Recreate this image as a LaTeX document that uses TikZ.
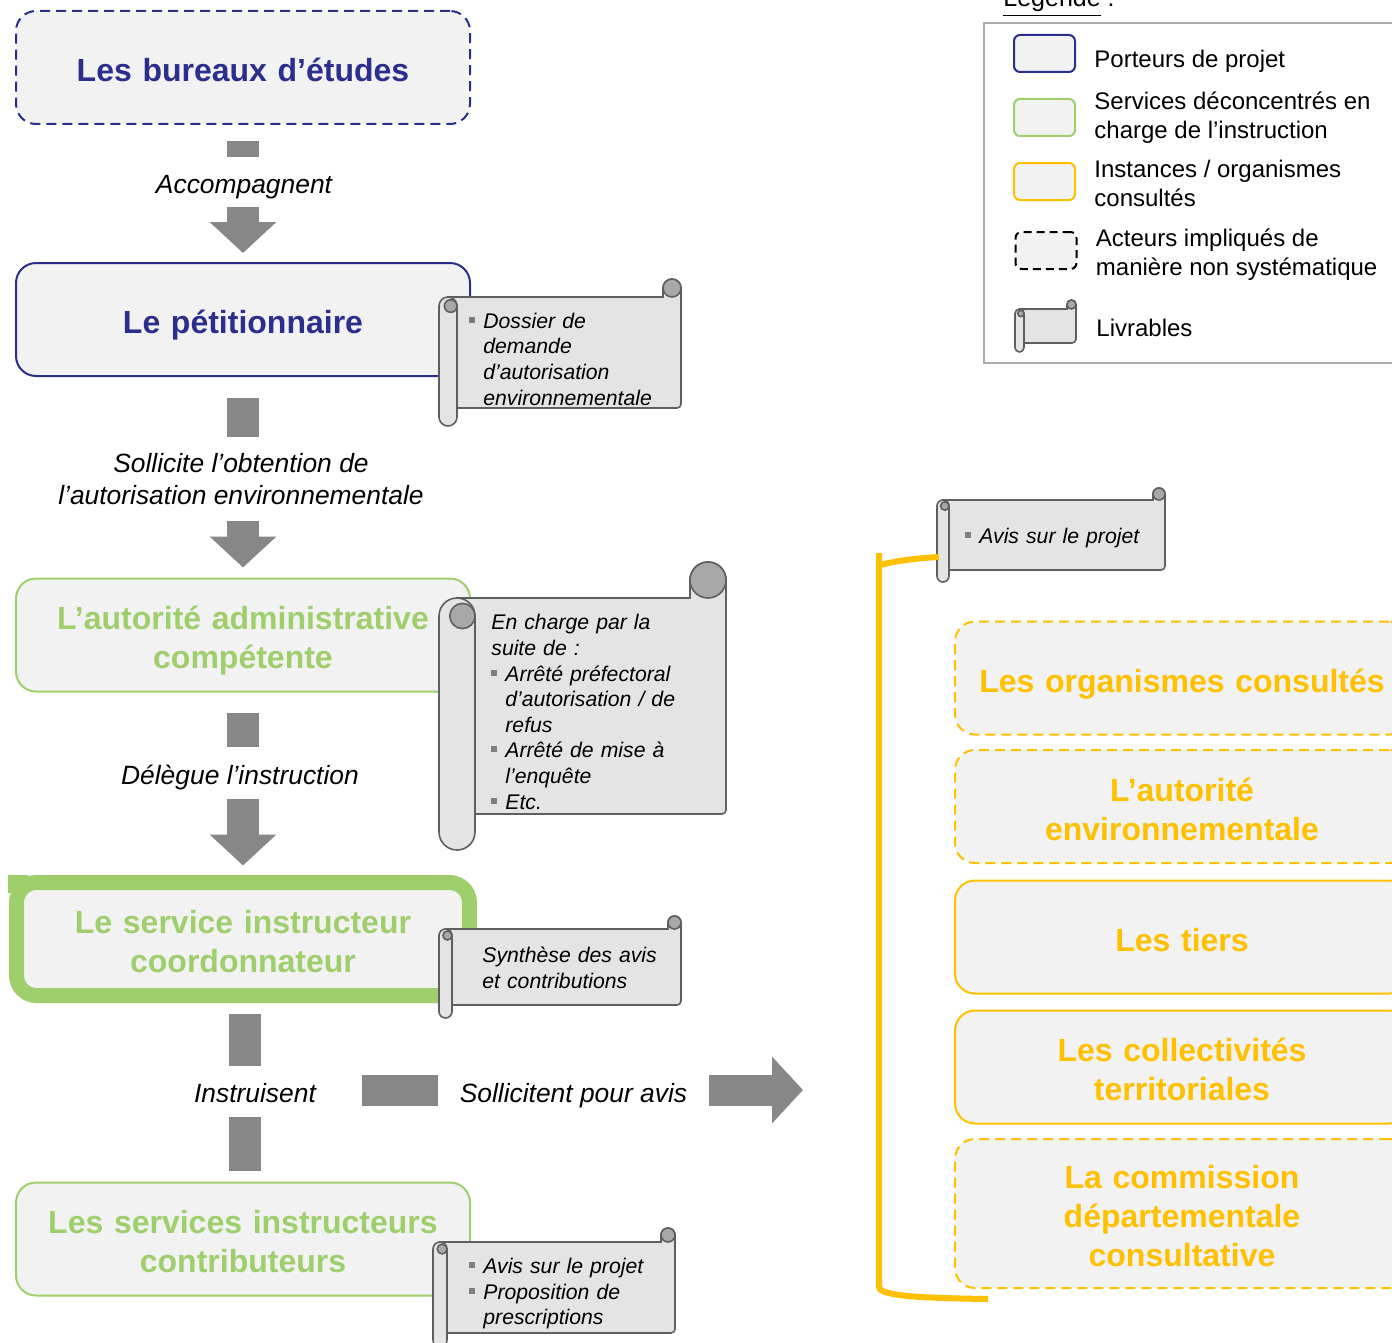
\documentclass[tikz,border=0pt]{standalone}
\usepackage{fontspec}
\setmainfont{Liberation Sans}
\usepackage{xcolor}
\usetikzlibrary{calc,arrows.meta,positioning}
\definecolor{navy}{HTML}{2B2E8C}
\definecolor{lgreen}{HTML}{9FCF6C}
\definecolor{amber}{HTML}{FFC000}
\definecolor{boxfill}{HTML}{F2F2F2}
\definecolor{arrowgray}{HTML}{878787}
\definecolor{scrollfill}{HTML}{E4E4E4}
\definecolor{curlgray}{HTML}{A8A8A8}
\definecolor{scrolledge}{HTML}{5F5F5F}
\definecolor{bulletgray}{HTML}{7F7F7F}
\definecolor{legendedge}{HTML}{ABABAB}
\tikzset{
  box/.style={rounded corners=10pt, fill=boxfill, minimum width=227pt, minimum height=56.5pt,
    align=center, text width=215pt, inner sep=0pt, outer sep=0pt, line width=1pt,
    font=\fontsize{16}{19.5}\selectfont\bfseries,
    execute at begin node={\rule{0pt}{17.5pt}},
    execute at end node={\rule[-3.5pt]{0pt}{3.5pt}}},
  porteur/.style={box, draw=navy, text=navy},
  service/.style={box, draw=lgreen, text=lgreen},
  instance/.style={box, draw=amber, text=amber},
  dashBox/.style={dash pattern=on 5pt off 3pt},
  flowBar/.style={draw=arrowgray, line width=16pt},
  flowArrow/.style={flowBar, -{Triangle[width=32.5pt,length=15.5pt]}},
  verbLbl/.style={font=\fontsize{13.2}{16}\selectfont\itshape, align=center, inner sep=0pt, outer sep=0pt},
  oneLine/.style={text height=14pt, text depth=3pt},
  delivTxt/.style={font=\fontsize{10.6}{12.8}\selectfont\itshape, align=left, inner sep=0pt, text width=118pt, anchor=west},
  scrollLine/.style={draw=scrolledge, line width=0.8pt},
  bracketLine/.style={draw=amber, line width=3pt},
  legendFrame/.style={draw=legendedge, line width=1pt, minimum width=208pt, minimum height=170pt, inner sep=0pt},
  legBox/.style={rounded corners=3pt, fill=boxfill, minimum width=30.5pt, minimum height=18.5pt, line width=1pt, inner sep=0pt},
  legTxt/.style={font=\fontsize{12}{14.5}\selectfont, align=left, inner sep=0pt, anchor=west},
}
\newcommand{\sqBullet}{\makebox[7pt][l]{\raisebox{0.5ex}{\textcolor{bulletgray}{\rule{3pt}{3pt}}}}}
\newcommand{\bitem}[1]{\par\noindent\hangindent=7pt\hangafter=1\sqBullet#1\par}
% scroll: left, top, right, bottom, roll size (pixels)
\newcommand{\Livrable}[5]{%
  \pgfmathsetmacro{\scrH}{#5/2}
  \draw[scrollLine, fill=scrollfill]
    ({#1+\scrH},{#2+#5}) -- ({#3-#5},{#2+#5}) -- ({#3-#5},{#2+\scrH})
    arc[start angle=180, end angle=0, radius=\scrH*0.5pt]
    -- ({#3},{#4-#5-4}) arc[start angle=0, end angle=-90, radius=2pt]
    -- ({#1+\scrH},{#4-#5}) -- cycle;
  \draw[scrollLine, fill=curlgray] ({#3-\scrH},{#2+\scrH}) circle[radius=\scrH*0.5pt];
  \draw[scrollLine, fill=scrollfill, rounded corners=\scrH*0.5pt] ({#1},{#2+#5}) rectangle ({#1+#5},{#4});
  \draw[scrollLine, fill=curlgray] ({#1+\scrH+0.15*#5},{#2+#5+\scrH}) circle[radius=\scrH*0.35pt];
}

\begin{document}
\begin{tikzpicture}[x=0.5pt, y=-0.5pt]
  \useasboundingbox (0,0) rectangle (1392,1343);

  % left column
  \node[porteur, dashBox] (bureaux) at (243,67.5) {Les bureaux d’études};
  \node[porteur] (petit) at (243,319.5) {Le pétitionnaire};
  \node[service] (autorite) at (243,635) {L’autorité administrative\\compétente};
  \fill[lgreen] (8,875) rectangle (28,893);
  \node[service, line width=7.5pt, minimum width=226.5pt] (coord) at (243,939) {Le service instructeur\\coordonnateur};
  \node[service] (contrib) at (243,1239) {Les services instructeurs\\contributeurs};

  % right column
  \node[instance, dashBox] (organismes) at (1182,678) {Les organismes consultés};
  \node[instance, dashBox] (autoEnv) at (1182,806.5) {L’autorité\\environnementale};
  \node[instance] (tiers) at (1182,937) {Les tiers};
  \node[instance] (collect) at (1182,1067) {Les collectivités\\territoriales};
  \node[instance, dashBox, minimum height=74.5pt] (commission) at (1182,1213.5) {La commission\\départementale\\consultative};

  % livrables
  \Livrable{439}{279}{681}{426}{18}
  \node[delivTxt] (dossier) at (469,354) {\bitem{Dossier de\newline demande\newline d’autorisation\newline environnementale}};
  \Livrable{439}{562}{726}{850}{36}
  \node[delivTxt] (arretes) at (491,712) {\noindent En charge par la\newline suite de :\par
    \bitem{Arrêté préfectoral\newline d’autorisation / de\newline refus}\bitem{Arrêté de mise à\newline l’enquête}\bitem{Etc.}};
  \Livrable{439}{916}{681}{1018}{13}
  \node[delivTxt] (synthese) at (482,968) {\noindent Synthèse des avis\newline et contributions};
  \Livrable{433}{1228}{675}{1347}{14}
  \node[delivTxt] (avisContrib) at (469,1288.5) {\bitem{Avis sur le projet}\bitem{Proposition de\newline prescriptions}};
  \Livrable{937}{488}{1165}{582}{12}
  \node[delivTxt] (avisOrg) at (965,533) {\bitem{Avis sur le projet}};

  % flow arrows
  \coordinate (acc0) at ($(bureaux.south)+(0,17)$);
  \node[verbLbl, oneLine, minimum height=25pt] (accomp) at (244,182) {Accompagnent};
  \draw[flowBar] (acc0) -- (acc0 |- accomp.north);
  \draw[flowArrow] (acc0 |- accomp.south) -- ($(petit.north)+(0,-10)$);

  \coordinate (sol0) at ($(petit.south)+(0,22)$);
  \node[verbLbl, minimum height=42pt] (sollicite) at (241,479) {Sollicite l’obtention de\\l’autorisation environnementale};
  \draw[flowBar] (sol0) -- (sol0 |- sollicite.north);
  \draw[flowArrow] (sol0 |- sollicite.south) -- ($(autorite.north)+(0,-11)$);

  \coordinate (del0) at ($(autorite.south)+(0,21)$);
  \node[verbLbl, oneLine, minimum height=26pt] (delegue) at (240,773) {Délègue l’instruction};
  \draw[flowBar] (del0) -- (del0 |- delegue.north);
  \draw[flowArrow] (del0 |- delegue.south) -- ($(coord.north)+(0,-17)$);

  \coordinate (ins0) at ($(coord.south)+(2,18)$);
  \node[verbLbl, oneLine, minimum height=25.5pt] (instruisent) at (255,1091.5) {Instruisent};
  \draw[flowBar] (ins0) -- (ins0 |- instruisent.north);
  \draw[flowBar] (ins0 |- instruisent.south) -- ($(contrib.north)+(2,-12)$);

  \coordinate (avis0) at (362,1090);
  \coordinate (avisTip) at (803,1090);
  \node[verbLbl, oneLine, minimum width=135.5pt] (pourAvis) at (573.5,1091) {Sollicitent pour avis};
  \draw[flowBar, line width=15.5pt] (avis0) -- (avis0 -| pourAvis.west);
  \draw[flowArrow, line width=15.5pt] (avis0 -| pourAvis.east) -- (avisTip);

  % bracket round the consulted bodies
  \draw[bracketLine] (879,553) -- (879,1287) .. controls (880,1296) and (920,1298) .. (988,1299);
  \draw[bracketLine] (880,565) .. controls (900,560) and (920,558) .. (939,557);

  % legend
  \node[legendFrame] (legend) at (1192,193) {};
  \node[legTxt, anchor=base west, font=\fontsize{12.5}{15}\selectfont] (legTitle) at (1003,7) {\underline{Légende} :};
  \node[legBox, draw=navy] (kPorteur) at (1044.5,53.5) {};
  \node[legTxt, right=9pt of kPorteur, yshift=-4pt] (tPorteur) {Porteurs de projet};
  \node[legBox, draw=lgreen] (kService) at (1044.5,117.5) {};
  \node[legTxt, right=9pt of kService] (tService) {Services déconcentrés en\\charge de l’instruction};
  \node[legBox, draw=amber] (kInstance) at (1044.5,181.5) {};
  \node[legTxt, right=9pt of kInstance, yshift=-1pt] (tInstance) {Instances / organismes\\consultés};
  \node[legBox, draw=black, dash pattern=on 4pt off 2.5pt] (kActeur) at (1046,250.5) {};
  \node[legTxt, right=9pt of kActeur, yshift=-2pt] (tActeur) {Acteurs impliqués de\\manière non systématique};
  \Livrable{1015}{300}{1076}{352}{9}
  \coordinate (kLivrable) at (1076,327.5);
  \node[legTxt, right=10pt of kLivrable] (tLivrable) {Livrables};
\end{tikzpicture}
\end{document}
